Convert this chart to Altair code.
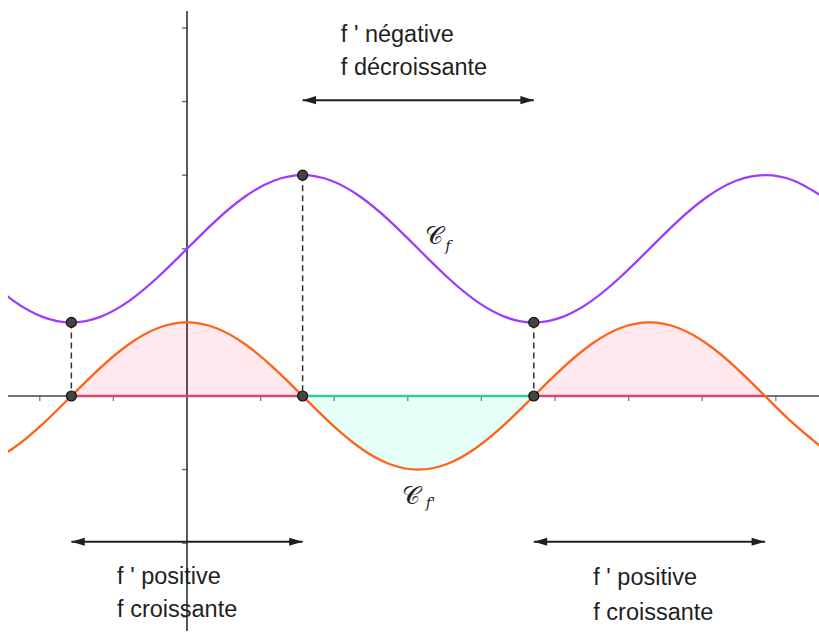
import altair as alt
import pandas as pd

# Abscissae (step pi/8) and the two curves: f and its derivative f'
xs = [-2.749, -2.356, -1.963, -1.571, -1.178, -0.785, -0.393, 0.0, 0.393, 0.785,
      1.178, 1.571, 1.963, 2.356, 2.749, 3.142, 3.534, 3.927, 4.320, 4.712,
      5.105, 5.498, 5.890, 6.283, 6.676, 7.069, 7.461, 7.854, 8.247, 8.639]
f_vals = [1.617, 1.293, 1.076, 1.0, 1.076, 1.293, 1.617, 2.0, 2.383, 2.707,
          2.924, 3.0, 2.924, 2.707, 2.383, 2.0, 1.617, 1.293, 1.076, 1.0,
          1.076, 1.293, 1.617, 2.0, 2.383, 2.707, 2.924, 3.0, 2.924, 2.707]
fp_vals = [-0.924, -0.707, -0.383, 0.0, 0.383, 0.707, 0.924, 1.0, 0.924, 0.707,
           0.383, 0.0, -0.383, -0.707, -0.924, -1.0, -0.924, -0.707, -0.383, 0.0,
           0.383, 0.707, 0.924, 1.0, 0.924, 0.707, 0.383, 0.0, -0.383, -0.707]

# Intervals on which f' keeps a constant sign
seg_start = [-1.571, 1.571, 4.712]
seg_end = [1.571, 4.712, 7.854]
seg_sign = ["pos", "neg", "pos"]

# Marked points (extrema of f and zeros of f')
pt_x = [-1.571, -1.571, 1.571, 1.571, 4.712, 4.712]
pt_y = [1.0, 0.0, 3.0, 0.0, 1.0, 0.0]

# Axis ticks
x_ticks = [-2, -1, 1, 2, 3, 4, 5, 6, 7, 8]
y_ticks = [-3, -2, -1, 1, 2, 3, 4, 5]

# Double arrows and their captions
arrow_start = [1.571, -1.571, 4.712]
arrow_end = [4.712, 1.571, 7.854]
arrow_y = [4.02, -1.98, -1.98]

caption_x = [2.09, 2.09, -0.95, -0.95, 5.52, 5.52]
caption_y = [4.91, 4.46, -2.46, -2.91, -2.47, -2.95]
caption_text = ["f ' négative", "f décroissante",
                "f ' positive", "f croissante",
                "f ' positive", "f croissante"]

PURPLE = "#9d3cff"
ORANGE = "#ff6319"
INK = "#1f1f1f"

curves = pd.DataFrame({"x": xs, "f": f_vals, "fp": fp_vals})

area_rows = []
for s, e, sg in zip(seg_start, seg_end, seg_sign):
    part = curves[(curves["x"] >= s - 1e-6) & (curves["x"] <= e + 1e-6)]
    for _, r in part.iterrows():
        area_rows.append({"x": r["x"], "fp": r["fp"], "seg": f"{s}", "sign": sg})
areas = pd.DataFrame(area_rows)
segs = pd.DataFrame({"start": seg_start, "end": seg_end, "sign": seg_sign})
pts = pd.DataFrame({"x": pt_x, "y": pt_y})
dashes = pd.DataFrame({"x": pt_x[0::2], "y": pt_y[0::2]})
arrows = pd.DataFrame({"start": arrow_start, "end": arrow_end, "y": arrow_y})
captions = pd.DataFrame({"x": caption_x, "y": caption_y, "t": caption_text})
origin = pd.DataFrame({"v": [0]})

xsc = alt.Scale(domain=[-2.432, 8.587], nice=False, zero=False)
ysc = alt.Scale(domain=[-3.193, 5.231], nice=False, zero=False)


def X(f):
    return alt.X(f, type="quantitative", scale=xsc, axis=None)


def Y(f):
    return alt.Y(f, type="quantitative", scale=ysc, axis=None)


fill_scale = alt.Scale(domain=["pos", "neg"], range=["#ffe8ee", "#e6fff8"])
edge_scale = alt.Scale(domain=["pos", "neg"], range=["#cf4a72", "#3cc79f"])

area_layer = alt.Chart(areas).transform_calculate(zero="0").mark_area(
    interpolate="natural", clip=True
).encode(
    x=X("x"), y=Y("fp"), y2=alt.Y2("zero:Q"),
    fill=alt.Fill("sign:N", scale=fill_scale, legend=None),
    detail="seg:N",
)

x_axis = alt.Chart(origin).mark_rule(color="#444", strokeWidth=1.5).encode(y=Y("v"))
y_axis = alt.Chart(origin).mark_rule(color="#222", strokeWidth=1.5).encode(x=X("v"))

x_tick_layer = alt.Chart(pd.DataFrame({"v": x_ticks})).transform_calculate(zero="0").mark_tick(
    orient="vertical", size=5, thickness=1.3, color="#444", yOffset=2.5
).encode(x=X("v"), y=Y("zero"))
y_tick_layer = alt.Chart(pd.DataFrame({"v": y_ticks})).transform_calculate(zero="0").mark_tick(
    orient="horizontal", size=5, thickness=1.3, color="#222", xOffset=-2.5
).encode(y=Y("v"), x=X("zero"))

edge_layer = alt.Chart(segs).transform_calculate(zero="0").mark_rule(strokeWidth=2.5).encode(
    x=X("start"), x2="end", y=Y("zero"),
    color=alt.Color("sign:N", scale=edge_scale, legend=None),
)

dash_layer = alt.Chart(dashes).transform_calculate(zero="0").mark_rule(
    color="#333", strokeWidth=1.5, strokeDash=[6, 4]
).encode(x=X("x"), y=Y("y"), y2="zero:Q")

f_line = alt.Chart(curves).mark_line(
    interpolate="natural", color=PURPLE, strokeWidth=2.3, clip=True
).encode(x=X("x"), y=Y("f"))
fp_line = alt.Chart(curves).mark_line(
    interpolate="natural", color=ORANGE, strokeWidth=2.3, clip=True
).encode(x=X("x"), y=Y("fp"))

pt_layer = alt.Chart(pts).mark_point(
    filled=True, size=100, color="#444", stroke="#111", strokeWidth=1.2, opacity=1
).encode(x=X("x"), y=Y("y"))

arrow_line = alt.Chart(arrows).mark_rule(color=INK, strokeWidth=2).encode(
    x=X("start"), x2="end", y=Y("y")
)
head_left = alt.Chart(arrows).mark_point(
    shape="M0,0 L2,-0.6 L2,0.6 Z", filled=True, size=180, color=INK, opacity=1
).encode(x=X("start"), y=Y("y"))
head_right = alt.Chart(arrows).mark_point(
    shape="M0,0 L-2,-0.6 L-2,0.6 Z", filled=True, size=180, color=INK, opacity=1
).encode(x=X("end"), y=Y("y"))

caption_layer = alt.Chart(captions).mark_text(
    align="left", baseline="middle", font="Liberation Sans", fontSize=23.5, color=INK
).encode(x=X("x"), y=Y("y"), text="t:N")

big_c = alt.Chart(pd.DataFrame({"x": [3.356, 3.043], "y": [2.174, -1.359], "t": ["𝒞", "𝒞"]})).mark_text(
    align="center", baseline="middle", font="DejaVu Serif", fontSize=25, color=INK
).encode(x=X("x"), y=Y("y"), text="t:N")
sub_c = alt.Chart(pd.DataFrame({"x": [3.546, 3.31], "y": [2.04, -1.45], "t": ["f", "f'"]})).mark_text(
    align="center", baseline="middle", font="DejaVu Serif", fontStyle="italic", fontSize=15, color=INK
).encode(x=X("x"), y=Y("y"), text="t:N")

chart = alt.layer(
    area_layer, x_axis, y_axis, x_tick_layer, y_tick_layer, edge_layer,
    dash_layer, f_line, fp_line, pt_layer,
    arrow_line, head_left, head_right, caption_layer, big_c, sub_c,
).properties(
    width=811, height=620,
    autosize=alt.AutoSizeParams(type="none"),
    padding={"left": 8, "top": 11, "right": 0, "bottom": 3},
    background="white",
).configure_view(stroke=None)

chart.save("out.html", embed_options={"renderer": "svg", "actions": False})
